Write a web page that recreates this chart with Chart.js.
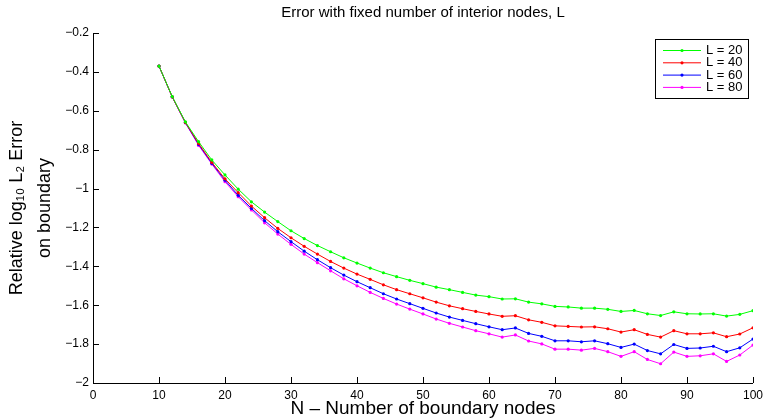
<!DOCTYPE html>
<html>
<head>
<meta charset="utf-8">
<script src="https://cdn.jsdelivr.net/npm/chart.js@4.4.1/dist/chart.umd.min.js"></script>
<style>
  html, body { margin: 0; padding: 0; background: #fff; }
  #wrap { width: 768px; height: 420px; position: relative; }
</style>
</head>
<body>
<div id="wrap"><canvas id="chart"></canvas></div>
<script>
// ---- data ----
const nodesN = [10,12,14,16,18,20,22,24,26,28,30,32,34,36,38,40,42,44,46,48,50,52,54,56,58,60,62,64,66,68,70,72,74,76,78,80,82,84,86,88,90,92,94,96,98,100];

const errL20 = [-0.370,-0.527,-0.657,-0.759,-0.853,-0.930,-1.003,-1.068,-1.121,-1.170,-1.217,-1.257,-1.293,-1.325,-1.356,-1.383,-1.409,-1.433,-1.453,-1.472,-1.489,-1.507,-1.520,-1.534,-1.548,-1.556,-1.568,-1.567,-1.584,-1.593,-1.606,-1.609,-1.615,-1.615,-1.621,-1.632,-1.627,-1.644,-1.653,-1.634,-1.644,-1.645,-1.644,-1.656,-1.647,-1.628];
const errL40 = [-0.370,-0.528,-0.660,-0.768,-0.865,-0.950,-1.021,-1.090,-1.150,-1.205,-1.253,-1.297,-1.337,-1.375,-1.409,-1.440,-1.467,-1.495,-1.520,-1.541,-1.562,-1.584,-1.603,-1.618,-1.632,-1.645,-1.657,-1.654,-1.675,-1.688,-1.706,-1.709,-1.712,-1.711,-1.721,-1.738,-1.726,-1.750,-1.764,-1.731,-1.747,-1.747,-1.742,-1.762,-1.748,-1.716];
const errL60 = [-0.370,-0.528,-0.661,-0.773,-0.870,-0.957,-1.035,-1.102,-1.165,-1.222,-1.273,-1.322,-1.366,-1.407,-1.445,-1.479,-1.510,-1.541,-1.568,-1.592,-1.616,-1.640,-1.661,-1.678,-1.695,-1.711,-1.726,-1.717,-1.745,-1.760,-1.783,-1.783,-1.788,-1.783,-1.798,-1.817,-1.800,-1.833,-1.850,-1.802,-1.822,-1.820,-1.811,-1.839,-1.819,-1.774];
const errL80 = [-0.370,-0.529,-0.662,-0.778,-0.874,-0.965,-1.042,-1.110,-1.176,-1.234,-1.287,-1.337,-1.381,-1.423,-1.464,-1.500,-1.534,-1.565,-1.594,-1.620,-1.645,-1.671,-1.693,-1.712,-1.731,-1.747,-1.764,-1.753,-1.784,-1.799,-1.826,-1.826,-1.831,-1.822,-1.839,-1.863,-1.839,-1.879,-1.901,-1.841,-1.863,-1.860,-1.850,-1.889,-1.856,-1.805];

const seriesLabels = ["L = 20", "L = 40", "L = 60", "L = 80"];
const seriesColors = ["#00ff00", "#ff0000", "#0000ff", "#ff00ff"];

const xTicks = [0,10,20,30,40,50,60,70,80,90,100];
const yTicks = [-2,-1.8,-1.6,-1.4,-1.2,-1,-0.8,-0.6,-0.4,-0.2];

const chartTitle = "Error with fixed number of interior nodes, L";
const FONT = "'Liberation Sans', Arial, Helvetica, sans-serif";
const fmt = v => (v < 0 ? "\u2212" : "") + String(Math.abs(Math.round(v * 10) / 10));

function makeSet(label, values, color){
  return {
    label,
    data: nodesN.map((n, i) => ({ x: n, y: values[i] })),
    borderColor: color,
    backgroundColor: color,
    borderWidth: 1,
    pointRadius: 1.6,
    pointBorderWidth: 0,
    pointBackgroundColor: color,
    tension: 0,
  };
}

// inward ticks + title centred over the axes, matlab style
const innerTicks = {
  id: "innerTicks",
  afterDraw(chart){
    const { ctx, chartArea: a, scales: { x, y } } = chart;
    ctx.save();
    ctx.strokeStyle = "#000";
    ctx.lineWidth = 1;
    ctx.beginPath();
    xTicks.forEach(v => {
      const px = Math.round(x.getPixelForValue(v)) + 0.5;
      ctx.moveTo(px, a.bottom); ctx.lineTo(px, a.bottom - 6);
    });
    yTicks.forEach(v => {
      const py = Math.round(y.getPixelForValue(v)) + 0.5;
      ctx.moveTo(a.left, py); ctx.lineTo(a.left + 6, py);
    });
    ctx.stroke();

    ctx.fillStyle = "#000";
    ctx.font = "15px " + FONT;
    ctx.textAlign = "center";
    ctx.textBaseline = "middle";
    ctx.fillText(chartTitle, (a.left + a.right) / 2, 13);
    ctx.restore();
  }
};

// legend box in top right corner
const boxLegend = {
  id: "boxLegend",
  afterDraw(chart){
    const { ctx } = chart;
    const left = 655, top = 39, w = 93, h = 59;
    ctx.save();
    ctx.fillStyle = "#fff";
    ctx.fillRect(left, top, w, h);
    ctx.strokeStyle = "#000";
    ctx.lineWidth = 1;
    ctx.strokeRect(left + 0.5, top + 0.5, w, h);
    ctx.font = "13px " + FONT;
    ctx.textBaseline = "middle";
    chart.data.datasets.forEach((ds, i) => {
      const yy = 50.5 + i * 12.3;
      ctx.strokeStyle = ds.borderColor;
      ctx.beginPath();
      ctx.moveTo(663, yy); ctx.lineTo(701, yy);
      ctx.stroke();
      ctx.fillStyle = ds.borderColor;
      ctx.beginPath();
      ctx.arc(682, yy, 1.6, 0, Math.PI * 2);
      ctx.fill();
      ctx.fillStyle = "#000";
      ctx.fillText(ds.label, 706, yy);
    });
    ctx.restore();
  }
};

new Chart(document.getElementById("chart"), {
  type: "line",
  data: {
    datasets: [
      makeSet(seriesLabels[0], errL20, seriesColors[0]),
      makeSet(seriesLabels[1], errL40, seriesColors[1]),
      makeSet(seriesLabels[2], errL60, seriesColors[2]),
      makeSet(seriesLabels[3], errL80, seriesColors[3]),
    ],
  },
  options: {
    responsive: true,
    maintainAspectRatio: false,
    animation: false,
    layout: { padding: { left: 0, top: 33, right: 13, bottom: 0 } },
    plugins: {
      legend: { display: false },
      tooltip: { enabled: false },
      title: { display: false },
    },
    scales: {
      x: {
        type: "linear",
        min: 0, max: 100,
        afterBuildTicks: s => { s.ticks = xTicks.map(v => ({ value: v })); },
        afterFit: s => { s.height = 37; },
        grid: { display: false, drawTicks: false },
        border: { display: true, color: "#000", width: 1 },
        ticks: { color: "#000", padding: 5, maxRotation: 0, font: { family: FONT, size: 12 } },
        title: {
          display: true,
          text: "N \u2013 Number of boundary nodes",
          color: "#000",
          padding: { top: 0, bottom: 0 },
          font: { family: FONT, size: 19 },
        },
      },
      y: {
        type: "linear",
        min: -2, max: -0.2,
        afterBuildTicks: s => { s.ticks = yTicks.map(v => ({ value: v })); },
        afterFit: s => { s.width = 93; },
        grid: { display: false, drawTicks: false },
        border: { display: true, color: "#000", width: 1 },
        ticks: { color: "#000", padding: 4, callback: v => fmt(v), font: { family: FONT, size: 12 } },
        title: {
          display: true,
          text: ["Relative log\u2081\u2080 L\u2082 Error", "on boundary"],
          color: "#000",
          padding: { top: 3, bottom: 0 },
          font: { family: FONT, size: 18, lineHeight: 1.55 },
        },
      },
    },
  },
  plugins: [innerTicks, boxLegend],
});
</script>
</body>
</html>
